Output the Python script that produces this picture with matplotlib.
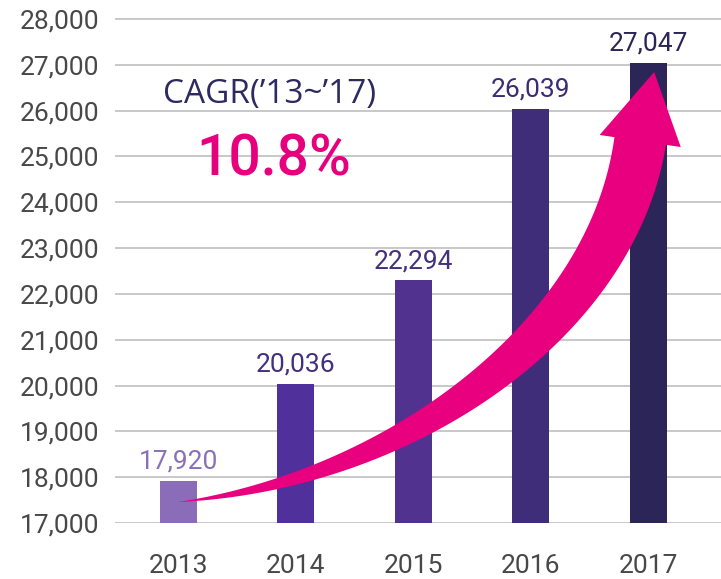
import numpy as np
import matplotlib
matplotlib.use("Agg")
import matplotlib.pyplot as plt
from matplotlib.patches import Polygon

plt.rcParams['font.family'] = ['Roboto', 'DejaVu Sans']

years = ['2013', '2014', '2015', '2016', '2017']
values = [17920, 20036, 22294, 26039, 27047]
value_labels = ['17,920', '20,036', '22,294', '26,039', '27,047']
bar_colors = ['#8a6cb8', '#50309a', '#51328f', '#3f2d79', '#2c2658']
label_colors = ['#8a70ba', '#43307f', '#43307f', '#3b2d73', '#2c2658']
yticks = list(range(17000, 28001, 1000))
cagr_label = "CAGR(\u201913~\u201917)"
cagr_value = "10.8%"

W, H = 721, 579
fig = plt.figure(figsize=(W / 100, H / 100), dpi=100)
ax = fig.add_axes([115 / W, (H - 523) / H, 1 - 115 / W, 523 / H])

x = np.arange(len(years))
ax.bar(x, values, width=0.315, color=bar_colors, zorder=2)
ax.set_xlim(-0.536, 4.616)
ax.set_ylim(17000, 17000 + 523 / 45.82 * 1000)

ax.set_yticks(yticks)
ax.set_yticklabels([f"{v:,}" for v in yticks])
ax.set_xticks(x)
ax.set_xticklabels(years)
ax.tick_params(axis='y', length=0, pad=11, labelsize=19, labelcolor='#484848')
ax.tick_params(axis='x', length=0, pad=22, labelsize=19, labelcolor='#484848')
for s in ax.spines.values():
    s.set_visible(False)
ax.grid(axis='y', color='#c8c8c8', linewidth=1.4, zorder=0)
ax.set_axisbelow(True)

for xi, v, lab, c in zip(x, values, value_labels, label_colors):
    ax.annotate(lab, (xi, v), xytext=(0, 5), textcoords='offset points',
                ha='center', va='bottom', fontsize=19, color=c, zorder=4)

# curved tapering arrow (annotation), anchored in data coordinates
fig.canvas.draw()
ctrl_data = np.array([[0.0, 17458], [1.888, 17938], [3.690, 21212], [3.929, 25337]])
tip_data = np.array([4.048, 26843])
P = ax.transData.transform(ctrl_data)
tip = ax.transData.transform(tip_data)
t = np.linspace(0, 1, 240)[:, None]
curve = ((1 - t) ** 3) * P[0] + 3 * ((1 - t) ** 2) * t * P[1] + 3 * (1 - t) * t ** 2 * P[2] + t ** 3 * P[3]
deriv = 3 * ((1 - t) ** 2) * (P[1] - P[0]) + 6 * (1 - t) * t * (P[2] - P[1]) + 3 * t ** 2 * (P[3] - P[2])
tang = deriv / np.linalg.norm(deriv, axis=1)[:, None]
norm = np.column_stack([-tang[:, 1], tang[:, 0]])
tt = t[:, 0]
w = 52 * (1 - (1 - tt) ** 1.4) / 2
left = curve + norm * w[:, None]
right = curve - norm * w[:, None]
end_n = norm[-1]
head_l = P[3] + end_n * 41
head_r = P[3] - end_n * 41
poly = np.vstack([left, head_l, tip, head_r, right[::-1]])
arrow = Polygon(poly, closed=True, transform=None, facecolor='#e8007f',
                edgecolor='none', zorder=3)
fig.patches.append(arrow)

fig.text(163 / W, 1 - 103 / H, cagr_label, fontsize=24, family=['Open Sans', 'DejaVu Sans'],
         color='#2d2a60', ha='left', va='baseline')
fig.text(196 / W, 1 - 175 / H, cagr_value, fontsize=41, fontweight='medium',
         color='#e6007e', ha='left', va='baseline')

fig.savefig('out.png', dpi=100)
